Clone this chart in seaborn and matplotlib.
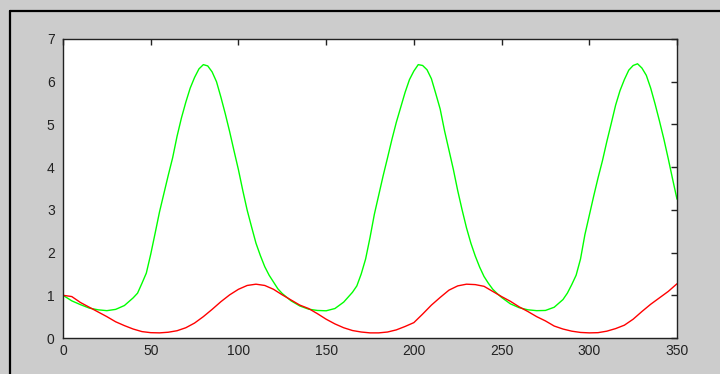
import numpy as np
import pandas as pd
import matplotlib
matplotlib.use('Agg')
import matplotlib.pyplot as plt
from matplotlib.lines import Line2D
import seaborn as sns

# green curve (denser where it is steep)
t_green = [0, 5, 10, 15, 20, 25, 30, 35, 40, 42.5, 45, 47.5, 50, 52.5, 55,
           57.5, 60, 62.5, 65, 67.5, 70, 72.5, 75, 77.5, 80, 82.5, 85, 87.5,
           90, 92.5, 95, 97.5, 100, 102.5, 105, 107.5, 110, 112.5, 115,
           117.5, 120, 122.5, 125, 130, 135, 140, 145, 150, 155, 160, 165,
           167.5, 170, 172.5, 175, 177.5, 180, 182.5, 185, 187.5, 190, 192.5,
           195, 197.5, 200, 202.5, 205, 207.5, 210, 212.5, 215, 217.5, 220,
           222.5, 225, 227.5, 230, 232.5, 235, 237.5, 240, 242.5, 245, 247.5,
           250, 255, 260, 265, 270, 275, 280, 285, 287.5, 290, 292.5, 295,
           297.5, 300, 302.5, 305, 307.5, 310, 312.5, 315, 317.5, 320, 322.5,
           325, 327.5, 330, 332.5, 335, 337.5, 340, 342.5, 345, 347.5, 350]
green = [1.00, 0.87, 0.78, 0.70, 0.66, 0.64, 0.67, 0.76, 0.94, 1.05, 1.28,
         1.52, 1.96, 2.45, 2.95, 3.38, 3.81, 4.22, 4.72, 5.15, 5.52, 5.85,
         6.10, 6.30, 6.40, 6.37, 6.23, 6.00, 5.64, 5.25, 4.83, 4.38, 3.94,
         3.45, 2.99, 2.60, 2.22, 1.93, 1.67, 1.47, 1.31, 1.15, 1.04, 0.87,
         0.75, 0.675, 0.645, 0.637, 0.69, 0.84, 1.07, 1.22, 1.50, 1.85, 2.35,
         2.90, 3.35, 3.80, 4.22, 4.65, 5.05, 5.40, 5.75, 6.05, 6.25, 6.40,
         6.38, 6.28, 6.07, 5.72, 5.36, 4.85, 4.40, 3.95, 3.45, 3.00, 2.58,
         2.22, 1.92, 1.66, 1.44, 1.28, 1.14, 1.04, 0.95, 0.80, 0.71, 0.66,
         0.64, 0.645, 0.72, 0.90, 1.05, 1.25, 1.47, 1.85, 2.42, 2.87, 3.32,
         3.75, 4.15, 4.60, 5.02, 5.45, 5.79, 6.05, 6.27, 6.38, 6.42, 6.32,
         6.15, 5.85, 5.48, 5.08, 4.66, 4.20, 3.72, 3.25]

# red curve, step 5
t_red = list(range(0, 355, 5))
red = [1.00, 0.97, 0.83, 0.72, 0.61, 0.50, 0.38, 0.29, 0.21, 0.15,
       0.125, 0.12, 0.135, 0.17, 0.24, 0.35, 0.50, 0.67, 0.85, 1.01,
       1.14, 1.23, 1.26, 1.23, 1.14, 1.01, 0.89, 0.77, 0.69, 0.57,
       0.44, 0.33, 0.24, 0.175, 0.14, 0.12, 0.12, 0.14, 0.19, 0.27,
       0.36, 0.56, 0.77, 0.95, 1.12, 1.22, 1.26, 1.25, 1.21, 1.09,
       0.97, 0.86, 0.73, 0.62, 0.50, 0.40, 0.28, 0.21, 0.16, 0.13,
       0.12, 0.125, 0.16, 0.22, 0.30, 0.44, 0.62, 0.79, 0.94, 1.09,
       1.27]
xticks = [0, 50, 100, 150, 200, 250, 300, 350]
yticks = [0, 1, 2, 3, 4, 5, 6, 7]

df_green = pd.DataFrame({'t': t_green, 'v': green})
df_red = pd.DataFrame({'t': t_red, 'v': red})

sns.set_theme(style='white')
plt.rcParams['font.family'] = ['Liberation Sans', 'DejaVu Sans']

fig = plt.figure(figsize=(7.2, 3.74), dpi=100)
fig.patch.set_facecolor('#cccccc')
ax = fig.add_axes([63 / 720, 36 / 374, 614 / 720, 299 / 374])
ax.set_facecolor('white')

sns.lineplot(data=df_green, x='t', y='v', color='#00ff00', lw=1.0, ax=ax)
sns.lineplot(data=df_red, x='t', y='v', color='#ff0000', lw=1.0, ax=ax)

ax.set_xlim(0, 350)
ax.set_ylim(0, 7)
ax.set_xticks(xticks)
ax.set_yticks(yticks)
ax.set_xlabel('')
ax.set_ylabel('')
ax.tick_params(direction='in', length=4, width=1, colors='#222222',
               top=True, right=True, labelsize=10)
ax.tick_params(axis='x', pad=4)
ax.tick_params(axis='y', pad=6)
for s in ax.spines.values():
    s.set_color('#222222')
    s.set_linewidth(1.0)
    s.set_visible(True)

# outer frame (top and left edges visible in the reference)
fig.add_artist(Line2D([9.5 / 720, 1.0], [1 - 11 / 374, 1 - 11 / 374],
                      transform=fig.transFigure, color='black', lw=1.6))
fig.add_artist(Line2D([9.5 / 720, 9.5 / 720], [0, 1 - 11 / 374],
                      transform=fig.transFigure, color='black', lw=1.6))

fig.savefig('out.png', dpi=100, facecolor=fig.get_facecolor())
